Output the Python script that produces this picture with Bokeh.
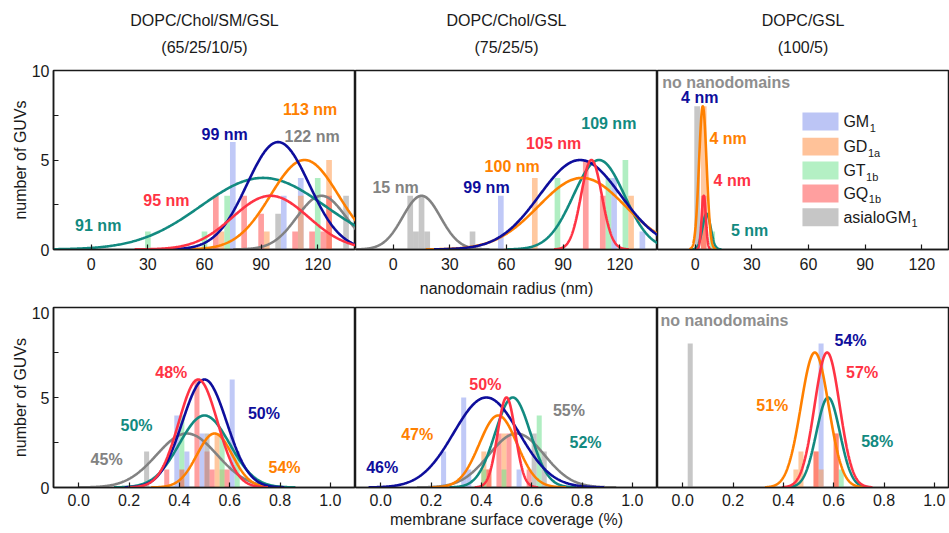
import numpy as np
from bokeh.plotting import figure
from bokeh.models import FixedTicker, Title, Range1d, PrintfTickFormatter
from bokeh.layouts import row, column
from bokeh.embed import file_html
from bokeh.resources import INLINE
from bokeh.core.properties import value

FONT = "Liberation Sans"
INK = "#1a1a1a"

# ---------------- data ----------------
series = ["GM1", "GD1a", "GT1b", "GQ1b", "asialoGM1"]
legend_main = ["GM", "GD", "GT", "GQ", "asialoGM"]
legend_sub = ["1", "1a", "1b", "1b", "1"]

titles_top = ["DOPC/Chol/SM/GSL", "DOPC/Chol/GSL", "DOPC/GSL"]
titles_bottom = ["(65/25/10/5)", "(75/25/5)", "(100/5)"]

radius_ticks = [0, 30, 60, 90, 120]
coverage_ticks = [0.0, 0.2, 0.4, 0.6, 0.8, 1.0]
count_ticks = [0, 5, 10]
count_minor = [2.5, 7.5]

# radius histograms: bin centre (nm), number of GUVs
rad1_bars = {
    "GM1": ([75, 102, 111], [6, 3, 4]),
    "GD1a": ([69, 93, 111, 126], [1, 1, 3, 5]),
    "GT1b": ([30, 60, 72, 120], [1, 1, 3, 4]),
    "GQ1b": ([66, 81, 90, 108, 117, 123, 126], [3, 3, 2, 1, 1, 1, 3]),
    "asialoGM1": ([99, 135], [2, 3]),
}
rad2_bars = {
    "GM1": ([57, 117, 132], [3, 4, 1]),
    "GD1a": ([75, 126], [4, 3]),
    "GT1b": ([87, 114, 123], [4, 4, 5]),
    "GQ1b": ([102, 111], [5, 3]),
    "asialoGM1": ([9, 12, 15, 18, 42], [3, 1, 3, 1, 1]),
}
rad3_bars = {
    "GD1a": ([4.5], [8]),
    "GT1b": ([9], [1]),
    "GQ1b": ([4.5], [3]),
    "asialoGM1": ([1], [8]),
}
# gaussian fits (order of `series`), None = no fit
rad1_mean = [99, 113, 91, 95, 122]
rad1_amp = [6, 5, 4, 3, 3]
rad1_sd = [16.5, 18, 33, 20, 13]
rad2_mean = [99, 100, 109, 105, 15]
rad2_amp = [5, 4, 5, 5, 3]
rad2_sd = [21.5, 23, 13.5, 5.5, 10]
rad3_mean = [None, 4, 6, 4.5, None]
rad3_amp = [None, 8, 2, 3, None]
rad3_sd = [None, 2.0, 2.2, 1.1, None]

rad1_text = ["99 nm", "113 nm", "122 nm", "95 nm", "91 nm"]
rad1_text_series = ["GM1", "GD1a", "asialoGM1", "GQ1b", "GT1b"]
rad2_text = ["15 nm", "99 nm", "100 nm", "105 nm", "109 nm"]
rad2_text_series = ["asialoGM1", "GM1", "GD1a", "GQ1b", "GT1b"]
rad3_text = ["4 nm", "4 nm", "4 nm", "5 nm"]
rad3_text_series = ["GM1", "GD1a", "GQ1b", "GT1b"]

# coverage histograms: bin centre (fraction), number of GUVs
cov1_bars = {
    "GM1": ([0.39, 0.43, 0.49, 0.61], [4, 2, 3, 6]),
    "GD1a": ([0.55, 0.57], [3, 1]),
    "GT1b": ([0.41, 0.57, 0.63], [4, 3, 2]),
    "GQ1b": ([0.35, 0.41, 0.47, 0.51, 0.53, 0.59], [1, 1, 6, 2, 1, 1]),
    "asialoGM1": ([0.27, 0.51], [2, 3]),
}
cov2_bars = {
    "GM1": ([0.25, 0.33, 0.35, 0.55], [2, 5, 1, 1]),
    "GD1a": ([0.41, 0.43, 0.49], [2, 1, 3]),
    "GT1b": ([0.41, 0.49, 0.63], [1, 1, 4]),
    "GQ1b": ([0.43, 0.47, 0.51, 0.59], [1, 3, 3, 1]),
    "asialoGM1": ([0.61, 0.65], [3, 2]),
}
cov3_bars = {
    "GM1": ([0.55], [8]),
    "GD1a": ([0.45, 0.47, 0.53, 0.55, 0.61], [1, 2, 2, 1, 3]),
    "GT1b": ([0.63], [1]),
    "GQ1b": ([0.53, 0.61], [2, 3]),
    "asialoGM1": ([0.03], [8]),
}
cov1_mean = [0.50, 0.54, 0.50, 0.475, 0.43]
cov1_amp = [6, 3, 4, 6, 3]
cov1_sd = [0.088, 0.07, 0.1, 0.077, 0.12]
cov2_mean = [0.42, 0.467, 0.525, 0.50, 0.54]
cov2_amp = [5, 4, 5, 5, 3]
cov2_sd = [0.13, 0.075, 0.07, 0.035, 0.11]
cov3_mean = [None, 0.525, 0.578, 0.574, None]
cov3_amp = [None, 7.5, 5, 7.5, None]
cov3_sd = [None, 0.055, 0.047, 0.05, None]

cov1_text = ["48%", "50%", "50%", "45%", "54%"]
cov1_text_series = ["GQ1b", "GM1", "GT1b", "asialoGM1", "GD1a"]
cov2_text = ["50%", "55%", "47%", "52%", "46%"]
cov2_text_series = ["GQ1b", "asialoGM1", "GD1a", "GT1b", "GM1"]
cov3_text = ["54%", "57%", "51%", "58%"]
cov3_text_series = ["GM1", "GQ1b", "GD1a", "GT1b"]

# ---------------- styles / positions ----------------
line_color = {"GM1": "#0e0e9c", "GD1a": "#ff8000", "GT1b": "#128a80",
              "GQ1b": "#ff3344", "asialoGM1": "#828282"}
bar_color = {"GM1": "#8c9cf0", "GD1a": "#ff9a50", "GT1b": "#70e090",
             "GQ1b": "#ff5050", "asialoGM1": "#999999"}
legend_fill = {"GM1": "#bcc5f5", "GD1a": "#ffc299", "GT1b": "#b4f0c4",
               "GQ1b": "#ff9f9f", "asialoGM1": "#c6c6c6"}
NO_DOMAIN_COLOR = "#8e8e8e"

rad1_text_x = [70.7, 116, 117, 39.8, 3.7]
rad1_text_y = [6.4, 7.84, 6.3, 2.76, 1.36]
rad2_text_x = [1.2, 49.4, 63, 85, 114.2]
rad2_text_y = [3.45, 3.45, 4.63, 5.93, 7.05]
rad3_text_x = [2.4, 17.4, 19.6, 28.8]
rad3_text_y = [8.49, 6.18, 3.88, 1.04]
cov1_text_x = [0.368, 0.736, 0.23, 0.111, 0.818]
cov1_text_y = [6.39, 4.11, 3.46, 1.53, 1.12]
cov2_text_x = [0.416, 0.748, 0.145, 0.814, 0.006]
cov2_text_y = [5.74, 4.3, 2.93, 2.52, 1.12]
cov3_text_x = [0.667, 0.713, 0.356, 0.773]
cov3_text_y = [8.19, 6.41, 4.54, 2.58]

FRAME_W = [302, 302, 291]
TOP_H, BOT_H = 179, 180
RAD_RANGE = (-20, 140)
COV_RANGE = (-0.1, 1.1)
PX_RAD = FRAME_W[0] / (RAD_RANGE[1] - RAD_RANGE[0])
PX_COV = FRAME_W[0] / (COV_RANGE[1] - COV_RANGE[0])
CURVE_ORDER = [4, 2, 1, 0, 3]


def make_fig(col, top_row):
    fw = FRAME_W[col]
    if top_row:
        xs, xe = RAD_RANGE[0], RAD_RANGE[0] + fw / PX_RAD
    else:
        xs, xe = COV_RANGE[0], COV_RANGE[0] + fw / PX_COV
    p = figure(x_range=Range1d(xs, xe), y_range=Range1d(0, 10),
               frame_width=fw, frame_height=TOP_H if top_row else BOT_H,
               output_backend="svg", toolbar_location=None, title_location=None,
               min_border_left=53 if col == 0 else 0,
               min_border_right=1 if col == 2 else 0,
               min_border_top=70 if top_row else 1,
               min_border_bottom=57 if top_row else 46)
    p.grid.visible = False
    p.outline_line_color = INK
    p.outline_line_width = 1.5
    p.outline_line_alpha = 1.0
    p.background_fill_color = "white"
    p.border_fill_color = "white"

    xa = p.xaxis[0]
    xa.ticker = FixedTicker(ticks=radius_ticks if top_row else coverage_ticks, minor_ticks=[])
    if not top_row:
        xa.formatter = PrintfTickFormatter(format="%.1f")
    xa.major_tick_in = 5
    xa.major_tick_out = 0
    xa.minor_tick_in = 0
    xa.minor_tick_out = 0
    xa.axis_line_color = INK
    xa.axis_line_width = 1.5
    xa.major_tick_line_color = INK
    xa.major_tick_line_width = 1.2
    xa.major_label_text_font = FONT
    xa.major_label_text_font_size = "16px"
    xa.major_label_text_color = INK
    xa.major_label_standoff = 8 if top_row else 6
    if col == 1:
        xa.axis_label = "nanodomain radius (nm)" if top_row else "membrane surface coverage (%)"
        xa.axis_label_text_font = FONT
        xa.axis_label_text_font_size = "16px"
        xa.axis_label_text_font_style = "normal"
        xa.axis_label_text_color = INK
        xa.axis_label_standoff = 7 if top_row else 2

    ya = p.yaxis[0]
    if col == 0:
        ya.ticker = FixedTicker(ticks=count_ticks, minor_ticks=count_minor)
        ya.major_tick_in = 5
        ya.major_tick_out = 0
        ya.minor_tick_in = 5
        ya.minor_tick_out = 0
        ya.axis_line_color = INK
        ya.axis_line_width = 1.5
        ya.major_tick_line_color = INK
        ya.minor_tick_line_color = INK
        ya.major_label_text_font = FONT
        ya.major_label_text_font_size = "16px"
        ya.major_label_text_color = INK
        ya.major_label_standoff = 4
        ya.axis_label = "number of GUVs"
        ya.axis_label_text_font = FONT
        ya.axis_label_text_font_size = "16px"
        ya.axis_label_text_font_style = "normal"
        ya.axis_label_text_color = INK
        ya.axis_label_standoff = 0
    else:
        ya.visible = False

    if top_row:
        # small blank spacer between frame and the two-line panel title
        p.add_layout(Title(text=" ", text_font_size="1px", standoff=6), "above")
        p.add_layout(Title(text=titles_bottom[col], align="center", text_font=FONT,
                           text_font_size="16px", text_font_style="normal",
                           text_color=INK, standoff=12), "above")
        p.add_layout(Title(text=titles_top[col], align="center", text_font=FONT,
                           text_font_size="16px", text_font_style="normal",
                           text_color=INK, standoff=4), "above")
    return p


def draw(p, bars, bw, means, amps, sds, texts, text_series, tx, ty):
    for s in series:
        if s in bars:
            xs, ns = bars[s]
            p.vbar(x=xs, top=ns, width=bw, fill_color=bar_color[s], fill_alpha=0.55,
                   line_color=None)
    for i in CURVE_ORDER:
        m = means[i]
        if m is None:
            continue
        sd = sds[i]
        xx = np.linspace(m - 3.6 * sd, m + 3.6 * sd, 400)
        yy = amps[i] * np.exp(-0.5 * ((xx - m) / sd) ** 2)
        p.line(xx, yy, line_color=line_color[series[i]], line_width=2.6)
    p.text(x=tx, y=ty, text=texts, text_color=[line_color[s] for s in text_series],
           text_font=value(FONT), text_font_style="bold", text_font_size="16px",
           text_align="center", text_baseline="middle")


figs_top = [make_fig(c, True) for c in range(3)]
figs_bot = [make_fig(c, False) for c in range(3)]

BW_RAD, BW_COV = 3.0, 0.02
draw(figs_top[0], rad1_bars, BW_RAD, rad1_mean, rad1_amp, rad1_sd, rad1_text, rad1_text_series, rad1_text_x, rad1_text_y)
draw(figs_top[1], rad2_bars, BW_RAD, rad2_mean, rad2_amp, rad2_sd, rad2_text, rad2_text_series, rad2_text_x, rad2_text_y)
draw(figs_top[2], rad3_bars, BW_RAD, rad3_mean, rad3_amp, rad3_sd, rad3_text, rad3_text_series, rad3_text_x, rad3_text_y)
draw(figs_bot[0], cov1_bars, BW_COV, cov1_mean, cov1_amp, cov1_sd, cov1_text, cov1_text_series, cov1_text_x, cov1_text_y)
draw(figs_bot[1], cov2_bars, BW_COV, cov2_mean, cov2_amp, cov2_sd, cov2_text, cov2_text_series, cov2_text_x, cov2_text_y)
draw(figs_bot[2], cov3_bars, BW_COV, cov3_mean, cov3_amp, cov3_sd, cov3_text, cov3_text_series, cov3_text_x, cov3_text_y)

# "no nanodomains" notes for asialoGM1 in DOPC/GSL
figs_top[2].text(x=[-17.5], y=[9.33], text=["no nanodomains"], text_color=NO_DOMAIN_COLOR,
                 text_font=value(FONT), text_font_style="bold", text_font_size="16px",
                 text_align="left", text_baseline="middle")
figs_bot[2].text(x=[-0.088], y=[9.29], text=["no nanodomains"], text_color=NO_DOMAIN_COLOR,
                 text_font=value(FONT), text_font_style="bold", text_font_size="16px",
                 text_align="left", text_baseline="middle")

# legend (drawn in the DOPC/GSL radius panel)
leg_y = [7.15, 5.75, 4.41, 3.13, 1.80]
leg = figs_top[2]
leg.quad(left=[56.8] * 5, right=[75.9] * 5, bottom=[y - 0.5 for y in leg_y],
         top=[y + 0.5 for y in leg_y], fill_color=[legend_fill[s] for s in series],
         line_color=None)
leg.text(x=[78.5] * 5, y=leg_y, text=legend_main, text_color=INK, text_font=value(FONT),
         text_font_size="16px", text_align="left", text_baseline="middle")
main_w = [25.8, 24.0, 22.2, 24.9, 67.6]
leg.text(x=[78.5] * 5, y=leg_y, text=legend_sub, x_offset=[w + 0.5 for w in main_w], y_offset=6,
         text_color=INK, text_font=value(FONT), text_font_size="11px",
         text_align="left", text_baseline="middle")

layout = column(row(*figs_top), row(*figs_bot))
open("out.html", "w").write(file_html(layout, INLINE))
